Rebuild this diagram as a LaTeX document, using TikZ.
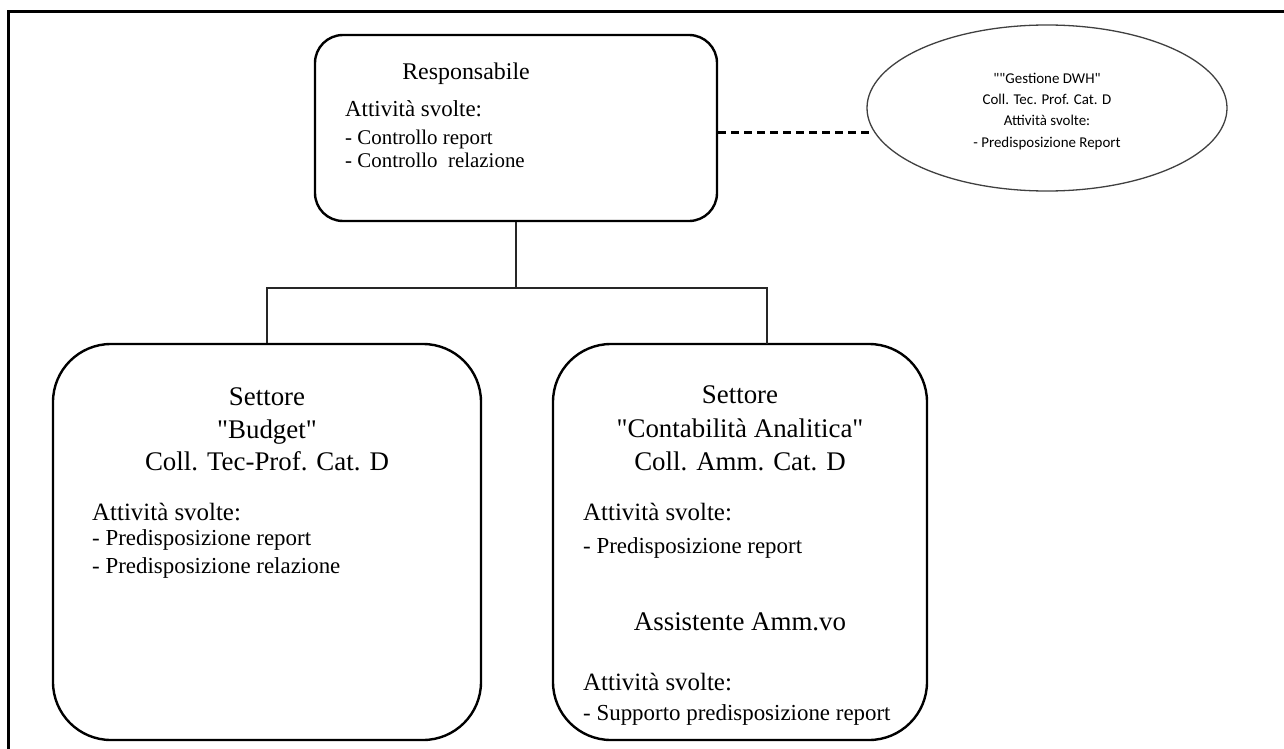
\documentclass[tikz,border=0pt]{standalone}
\usepackage{fontspec}
\setmainfont{Liberation Serif}
\newfontfamily\calibfont{Carlito}
\usetikzlibrary{shapes.geometric}
\begin{document}
\begin{tikzpicture}[x=1bp,y=-1bp,
  unitbox/.style={draw, line width=2.4bp, inner sep=0pt},
  link/.style={draw=black!85, line width=2bp},
  dwhshape/.style={ellipse, draw=black!75, line width=1.3bp, inner sep=0pt},
  head/.style={font=\fontsize{27}{30}\selectfont, inner sep=0pt, anchor=base},
  lead/.style={font=\fontsize{25}{30}\selectfont, inner sep=0pt, anchor=base west},
  item/.style={font=\fontsize{23}{28}\selectfont, inner sep=0pt, anchor=base west},
  rhead/.style={font=\fontsize{24}{28}\selectfont, inner sep=0pt, anchor=base},
  rlead/.style={font=\fontsize{23}{28}\selectfont, inner sep=0pt, anchor=base west},
  ritem/.style={font=\fontsize{21}{26}\selectfont, inner sep=0pt, anchor=base west},
  dwhtext/.style={font=\calibfont\fontsize{15}{20}\selectfont, inner sep=0pt, anchor=base},
]
\useasboundingbox (0,0) rectangle (1284,749);

% page frame, cut by the picture edge on the right and at the bottom
\begin{scope}
  \clip (0,0) rectangle (1284,749);
  \draw[line width=3bp] (1300,12) -- (8,12) -- (8,760);
\end{scope}

% boxes
\node[unitbox, rounded corners=28bp, minimum width=402bp, minimum height=186bp] (resp) at (516,128) {};
\node[unitbox, rounded corners=58bp, minimum width=428bp, minimum height=396bp] (budget) at (267,542) {};
\node[unitbox, rounded corners=58bp, minimum width=374bp, minimum height=396bp] (conta) at (740,542) {};
\node[dwhshape, minimum width=360bp, minimum height=166bp] (dwh) at (1047,108) {};

% tree connectors
\coordinate (fork) at (516,288);
\coordinate (dropR) at (767,344);
\draw[link] (resp.south) -- (fork);
\draw[link] (budget.north) |- (fork) -| (dropR);

% dashed link to the DWH unit
\draw[line width=2.6bp, dash pattern=on 8bp off 5bp] (resp.east |- dwh.188) -- (dwh.188);

% Responsabile
\node[rhead] (r1) at (466,80) {Responsabile};
\node[rlead] (r2) at (345,117) {Attività svolte:};
\node[ritem] (r3) at (345,144) {- Controllo report};
\node[ritem] (r4) at (345,167) {- Controllo\ \ relazione};

% Settore Budget
\node[head] (b1) at (267,405) {Settore};
\node[head] (b2) at (267,438) {\textquotedbl Budget\textquotedbl};
\node[head] (b3) at (267,470) {Coll. Tec-Prof. Cat. D};
\node[lead] (b4) at (92,520) {Attività svolte:};
\node[item] (b5) at (92,545) {- Predisposizione report};
\node[item] (b6) at (92,573) {- Predisposizione relazione};

% Settore Contabilita' Analitica
\node[head] (c1) at (740,403) {Settore};
\node[head] (c2) at (740,437) {\textquotedbl Contabilità Analitica\textquotedbl};
\node[head] (c3) at (740,470) {Coll. Amm. Cat. D};
\node[lead] (c4) at (583,520) {Attività svolte:};
\node[item] (c5) at (583,553) {- Predisposizione report};
\node[head] (c6) at (740,630) {Assistente Amm.vo};
\node[lead] (c7) at (583,690) {Attività svolte:};
\node[item] (c8) at (583,720) {- Supporto predisposizione report};

% Gestione DWH
\node[dwhtext] (d1) at (1047,84) {\textquotedbl\textquotedbl Gestione DWH\textquotedbl};
\node[dwhtext] (d2) at (1047,105) {Coll. Tec. Prof. Cat. D};
\node[dwhtext] (d3) at (1047,126) {Attività svolte:};
\node[dwhtext] (d4) at (1047,147) {- Predisposizione Report};
\end{tikzpicture}
\end{document}
